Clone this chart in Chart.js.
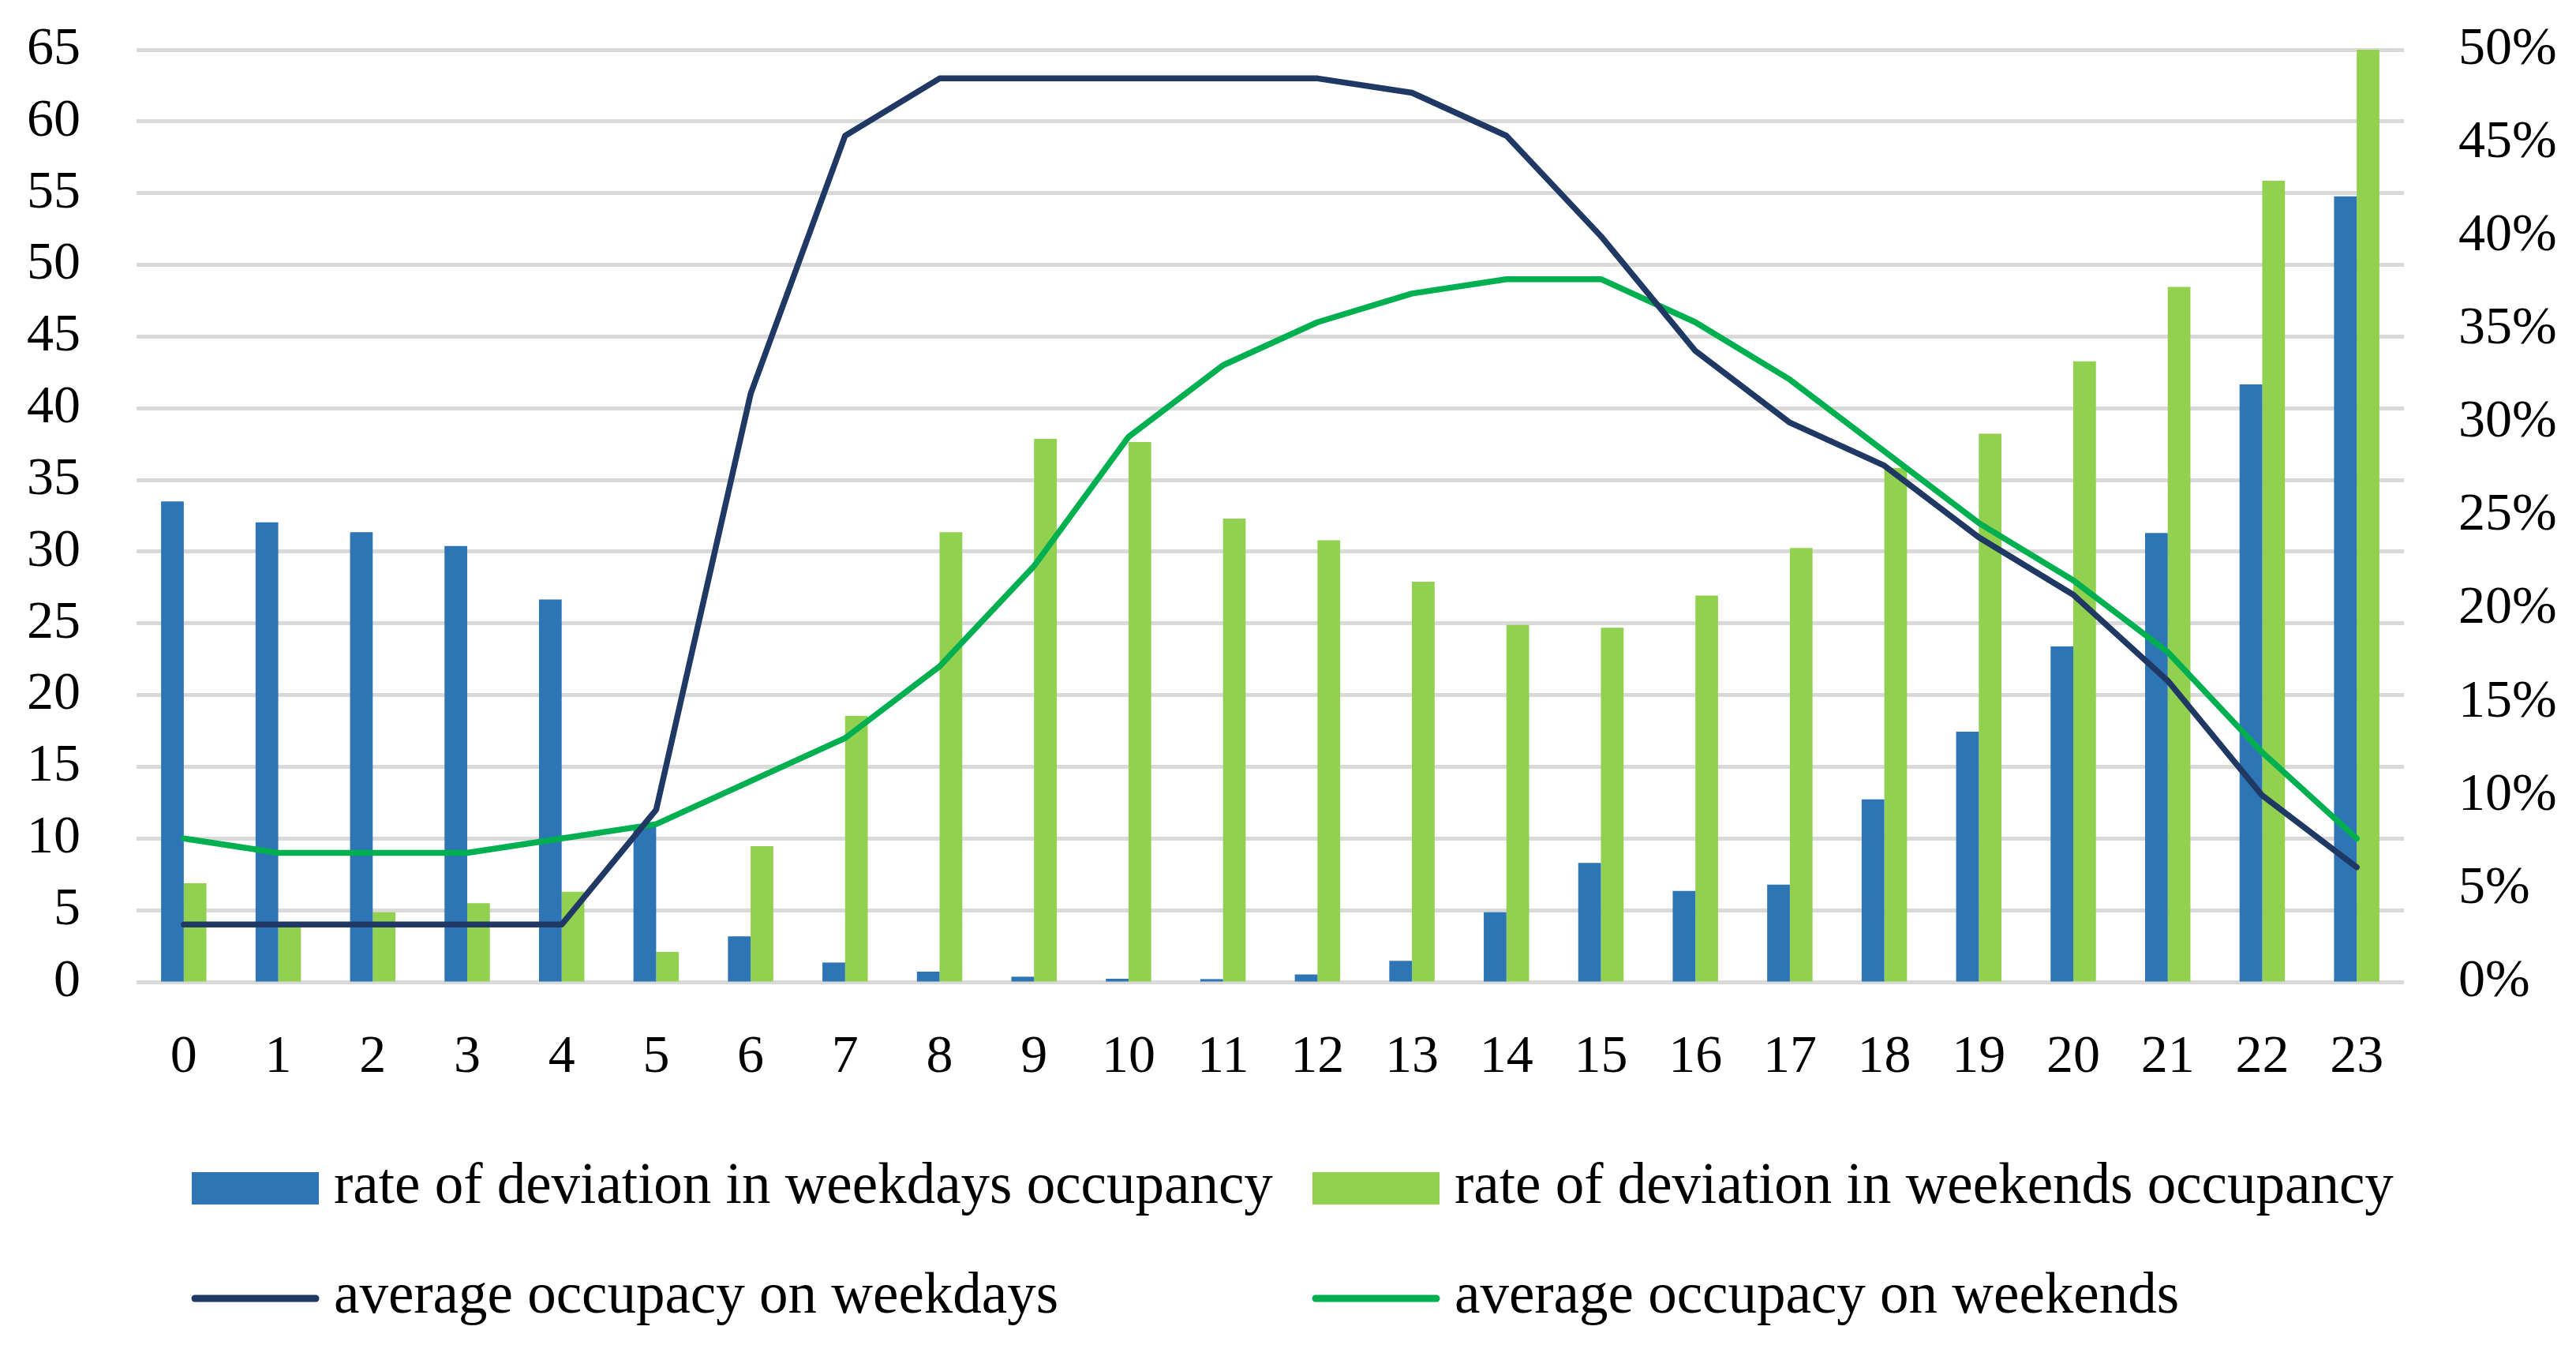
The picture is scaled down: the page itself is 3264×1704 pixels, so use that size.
<!DOCTYPE html>
<html>
<head>
<meta charset="utf-8">
<script src="https://cdn.jsdelivr.net/npm/chart.js@4.4.1/dist/chart.umd.min.js"></script>
<style>
  html, body { margin: 0; padding: 0; background: #ffffff; }
  #wrap { width: 3264px; height: 1704px; position: relative; }
  canvas { display: block; }
</style>
</head>
<body>
<div id="wrap"><canvas id="chart" width="3264" height="1704"></canvas></div>
<script>
// ---- Data ----
const hours = ['0','1','2','3','4','5','6','7','8','9','10','11','12','13','14','15','16','17','18','19','20','21','22','23'];

// rate of deviation (%), right axis
const weekdayDeviation = [25.77, 24.65, 24.12, 23.38, 20.51, 8.3, 2.45, 1.04, 0.55, 0.28, 0.17, 0.15, 0.4, 1.13, 3.74, 6.38, 4.88, 5.22, 9.79, 13.42, 17.99, 24.08, 32.05, 42.14];
const weekendDeviation = [5.29, 3.2, 3.74, 4.22, 4.84, 1.61, 7.28, 14.27, 24.12, 29.13, 28.96, 24.85, 23.69, 21.46, 19.15, 19.0, 20.72, 23.28, 27.57, 29.4, 33.29, 37.28, 42.97, 50.0];

// average occupancy, left axis
const weekdayOccupancy = [4, 4, 4, 4, 4, 12, 41, 59, 63, 63, 63, 63, 63, 62, 59, 52, 44, 39, 36, 31, 27, 21, 13, 8];
const weekendOccupancy = [10, 9, 9, 9, 10, 11, 14, 17, 22, 29, 38, 43, 46, 48, 49, 49, 46, 42, 37, 32, 28, 23, 16, 10];

// tick settings
const leftTicks = { min: 0, max: 65, step: 5 };
const rightTicks = { min: 0, max: 50, step: 5 };

const seriesLabels = [
  'rate of deviation in weekdays occupancy',
  'rate of deviation in weekends occupancy',
  'average occupacy on weekdays',
  'average occupacy on weekends'
];

const FONT = '"Liberation Serif", "Times New Roman", serif';

// custom two-column legend, drawn on the canvas
const gridLegend = {
  id: 'gridLegend',
  afterDraw(chart, args, o) {
    const ctx = chart.ctx;
    const dsets = chart.data.datasets;
    ctx.save();
    ctx.font = o.fontSize + 'px ' + FONT;
    ctx.textBaseline = 'alphabetic';
    ctx.textAlign = 'left';
    dsets.forEach((d, i) => {
      const col = i % 2, row = Math.floor(i / 2);
      const x0 = o.colX[col];
      const base = o.rowBaseline[row];
      if (d.type === 'bar') {
        ctx.fillStyle = d.backgroundColor;
        ctx.fillRect(x0, o.boxTop[row], o.symbolWidth, o.boxHeight);
      } else {
        ctx.strokeStyle = d.borderColor;
        ctx.lineWidth = o.lineSymbolWidth;
        ctx.lineCap = 'round';
        ctx.beginPath();
        ctx.moveTo(x0 + 4, o.lineY[row]);
        ctx.lineTo(x0 + o.symbolWidth - 4, o.lineY[row]);
        ctx.stroke();
      }
      ctx.fillStyle = '#000';
      ctx.fillText(d.label, x0 + o.symbolWidth + o.textGap, base);
    });
    ctx.restore();
  }
};

// vertical axes: keep tick padding horizontal only
const fitY = w => s => { s.width = w; s.paddingTop = 0; s.paddingBottom = 0; };

const ctx = document.getElementById('chart').getContext('2d');
new Chart(ctx, {
  data: {
    labels: hours,
    datasets: [
      { type: 'bar', label: seriesLabels[0], data: weekdayDeviation, yAxisID: 'yR',
        backgroundColor: '#2E75B6', borderWidth: 0, order: 2,
        categoryPercentage: 0.48, barPercentage: 1.0 },
      { type: 'bar', label: seriesLabels[1], data: weekendDeviation, yAxisID: 'yR',
        backgroundColor: '#92D050', borderWidth: 0, order: 2,
        categoryPercentage: 0.48, barPercentage: 1.0 },
      { type: 'line', label: seriesLabels[2], data: weekdayOccupancy, yAxisID: 'yL',
        borderColor: '#203864', backgroundColor: '#203864', borderWidth: 7.5,
        pointRadius: 0, tension: 0, fill: false, order: 0,
        borderCapStyle: 'round', borderJoinStyle: 'round' },
      { type: 'line', label: seriesLabels[3], data: weekendOccupancy, yAxisID: 'yL',
        borderColor: '#00B050', backgroundColor: '#00B050', borderWidth: 7.5,
        pointRadius: 0, tension: 0, fill: false, order: 1,
        borderCapStyle: 'round', borderJoinStyle: 'round' }
    ]
  },
  options: {
    responsive: false,
    maintainAspectRatio: false,
    animation: false,
    devicePixelRatio: 1,
    layout: { padding: { top: 63, left: 0, right: 0, bottom: 0 } },
    plugins: {
      legend: { display: false },
      tooltip: { enabled: false },
      gridLegend: {
        fontSize: 73,
        colX: [243, 1663],
        rowBaseline: [1524, 1663],
        boxTop: [1485, 1485],
        boxHeight: 41,
        symbolWidth: 161,
        textGap: 19,
        lineY: [1645, 1645],
        lineSymbolWidth: 9
      }
    },
    scales: {
      x: {
        type: 'category',
        grid: { display: false, drawTicks: false },
        border: { display: false },
        ticks: { color: '#000', font: { family: FONT, size: 68 }, padding: 55, maxRotation: 0, autoSkip: false },
        afterFit: s => { s.height = 460; }
      },
      yL: {
        type: 'linear', position: 'left',
        min: leftTicks.min, max: leftTicks.max,
        ticks: { stepSize: leftTicks.step, color: '#000', font: { family: FONT, size: 68 }, padding: 71 },
        grid: { color: '#D9D9D9', lineWidth: 5, drawTicks: false },
        border: { display: false },
        afterFit: fitY(173)
      },
      yR: {
        type: 'linear', position: 'right',
        min: rightTicks.min, max: rightTicks.max,
        ticks: { stepSize: rightTicks.step, color: '#000', font: { family: FONT, size: 68 }, padding: 69,
                 callback: v => v + '%' },
        grid: { drawOnChartArea: false, drawTicks: false },
        border: { display: false },
        afterFit: fitY(218)
      }
    }
  },
  plugins: [gridLegend]
});
</script>
</body>
</html>
